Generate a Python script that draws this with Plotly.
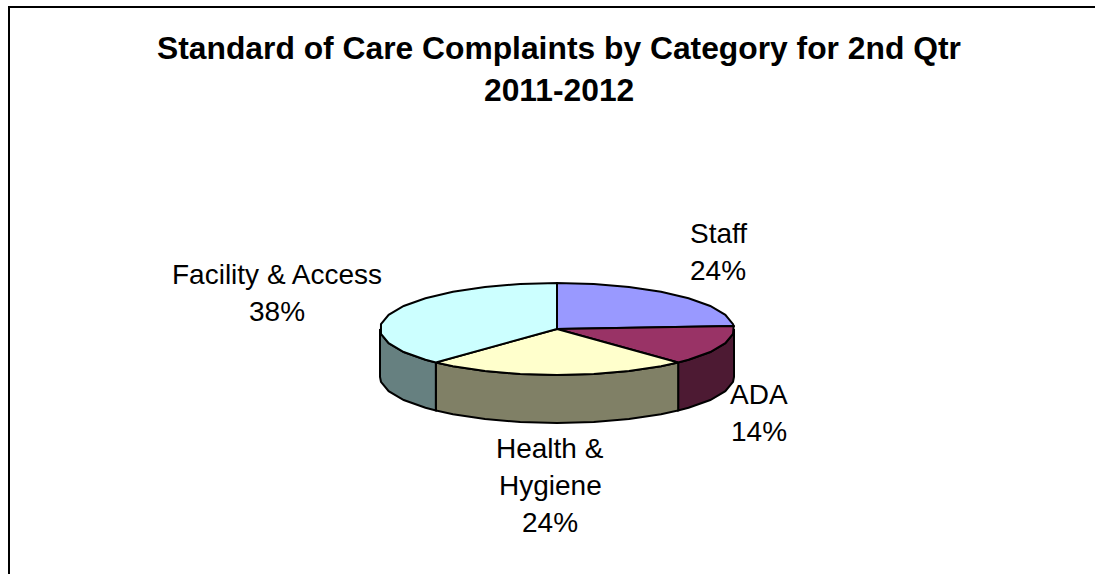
import numpy as np
import plotly.graph_objects as go

categories = ["Staff", "ADA", "Health & Hygiene", "Facility & Access"]
values = [24, 14, 24, 38]
top_colors = ["#9999FF", "#993366", "#FFFFCC", "#CCFFFF"]
side_colors = ["#4D4D80", "#4D1A33", "#808066", "#668080"]

title_lines = ["Standard of Care Complaints by Category for 2nd Qtr", "2011-2012"]
# Wrapped category text and where each block of lines sits (centre x, first line middle y)
label_lines = [["Staff"], ["ADA"], ["Health &", "Hygiene"], ["Facility & Access"]]
label_anchor = [(718, 233.5), (759, 394), (550, 448), (277, 274.5)]
LINE_STEP = 37

# Pie geometry in canvas pixels
CX, CY, RX, RY, DEPTH = 557, 329, 177, 46, 48
FACET_DEG = 12  # the rim is drawn as a coarse polyline
W, H = 1095, 574


def rim(a0, a1):
    """Faceted ellipse points from a0 to a1, degrees clockwise from twelve o'clock."""
    inner = np.arange(np.ceil(a0 / FACET_DEG + 1e-6), np.floor(a1 / FACET_DEG - 1e-6) + 1) * FACET_DEG
    t = np.radians(np.r_[a0, inner, a1])
    return CX + RX * np.sin(t), CY - RY * np.cos(t)


fig = go.Figure()
edges = np.concatenate([[0], np.cumsum(values) / np.sum(values) * 360])


def polygon(x, y, color):
    fig.add_trace(go.Scatter(
        x=x, y=y, mode="lines", fill="toself", fillcolor=color,
        line=dict(color="black", width=2), hoverinfo="skip", showlegend=False,
    ))


# Side walls exist only on the near half of the ellipse (90 to 270 degrees)
for a0, a1, side in zip(edges[:-1], edges[1:], side_colors):
    lo, hi = max(a0, 90), min(a1, 270)
    if lo >= hi:
        continue
    x, y = rim(lo, hi)
    polygon(np.r_[x, x[::-1], x[0]], np.r_[y, y[::-1] + DEPTH, y[0]], side)

# Top faces
for a0, a1, top in zip(edges[:-1], edges[1:], top_colors):
    x, y = rim(a0, a1)
    polygon(np.r_[CX, x, CX], np.r_[CY, y, CY], top)

annotations = []


def put(text, x, y, size, bold=False):
    annotations.append(dict(
        x=x, y=y, xref="x", yref="y", text=f"<b>{text}</b>" if bold else text,
        showarrow=False, xanchor="center", yanchor="middle",
        font=dict(family="Liberation Sans", size=size, color="black"),
    ))


for i, line in enumerate(title_lines):
    put(line, 559, 48 + i * 42, 31.8, bold=True)

for lines, (ax, ay), v in zip(label_lines, label_anchor, values):
    for i, line in enumerate(lines + [f"{v}%"]):
        put(line, ax, ay + i * LINE_STEP, 28)

fig.update_layout(
    width=W, height=H, margin=dict(l=0, r=0, t=0, b=0),
    paper_bgcolor="white", plot_bgcolor="white", showlegend=False,
    xaxis=dict(range=[0, W], visible=False, fixedrange=True),
    yaxis=dict(range=[H, 0], visible=False, fixedrange=True),
    annotations=annotations,
    shapes=[
        dict(type="line", xref="x", yref="y", x0=9, x1=9, y0=6, y1=H,
             line=dict(color="black", width=2)),
        dict(type="line", xref="x", yref="y", x0=8, x1=W, y0=7, y1=7,
             line=dict(color="black", width=2)),
    ],
)

fig.write_html("out.html", config={"displayModeBar": False})
